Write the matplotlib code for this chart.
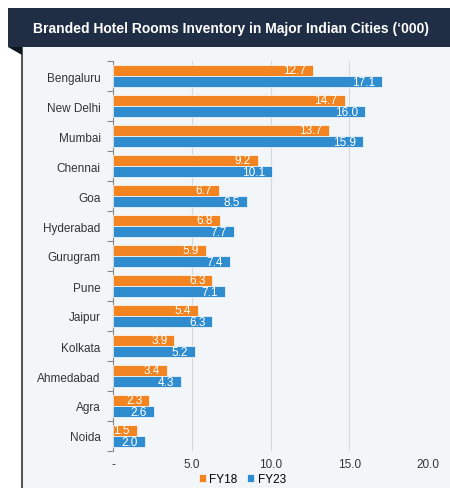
import numpy as np
import matplotlib.pyplot as plt
from matplotlib.patches import Rectangle, Polygon

cities = ["Bengaluru", "New Delhi", "Mumbai", "Chennai", "Goa", "Hyderabad",
          "Gurugram", "Pune", "Jaipur", "Kolkata", "Ahmedabad", "Agra", "Noida"]
fy18 = [12.7, 14.7, 13.7, 9.2, 6.7, 6.8, 5.9, 6.3, 5.4, 3.9, 3.4, 2.3, 1.5]
fy23 = [17.1, 16.0, 15.9, 10.1, 8.5, 7.7, 7.4, 7.1, 6.3, 5.2, 4.3, 2.6, 2.0]
xticks = [0, 5, 10, 15, 20]
xticklabels = ["-", "5.0", "10.0", "15.0", "20.0"]

orange = "#f28522"
blue = "#2f8ccf"
navy = "#1f2e45"
panel = "#f3f6f8"

plt.rcParams["font.family"] = ["Liberation Sans", "DejaVu Sans"]

fig = plt.figure(figsize=(4.5, 4.89), dpi=100)
fig.patch.set_facecolor("white")

# background panel + title bar
fig.patches.append(Rectangle((22 / 450, 0), 1 - 22 / 450, 1 - 48 / 489,
                             transform=fig.transFigure, facecolor=panel,
                             edgecolor="none", zorder=0))
fig.patches.append(Rectangle((21 / 450, 0), 1.5 / 450, 1 - 48 / 489,
                             transform=fig.transFigure, facecolor="#555555",
                             edgecolor="none", zorder=1))
fig.patches.append(Rectangle((8 / 450, 1 - 48 / 489), 1 - 8 / 450, 39 / 489,
                             transform=fig.transFigure, facecolor=navy,
                             edgecolor="none", zorder=1))
fig.patches.append(Polygon([(8 / 450, 1 - 48 / 489), (22 / 450, 1 - 48 / 489),
                            (22 / 450, 1 - 56 / 489)],
                           transform=fig.transFigure, facecolor="#0e1622",
                           edgecolor="none", zorder=1))
fig.text(231 / 450, 1 - 29 / 489,
         "Branded Hotel Rooms Inventory in Major Indian Cities (\u2018000)",
         color="white", fontsize=10, fontweight="bold",
         ha="center", va="center", zorder=3)

ax = fig.add_axes([113 / 450, 1 - 452 / 489, 315 / 450, 390 / 489])
ax.set_zorder(5)
ax.set_facecolor("none")

y = np.arange(len(cities))
h = 0.38
b1 = ax.barh(y - h / 2, fy18, height=h, color=orange, edgecolor="white", linewidth=0.5, label="FY18", zorder=3)
b2 = ax.barh(y + h / 2, fy23, height=h, color=blue, edgecolor="white", linewidth=0.5, label="FY23", zorder=3)
for bars, vals in [(b1, fy18), (b2, fy23)]:
    texts = ax.bar_label(bars, labels=[f"{v:.1f}" for v in vals], label_type="edge",
                         padding=-5, color="white", fontsize=8.5)
    for t in texts:
        t.set_ha("right")

ax.set_ylim(len(cities) - 0.5, -0.5)
ax.set_xlim(0, 20)
ax.set_xticks(xticks)
ax.set_xticklabels(xticklabels, fontsize=8.5, color="#333333")
ax.set_yticks(y)
ax.set_yticklabels(cities, fontsize=8.5, color="#333333")
ax.tick_params(axis="y", length=0, pad=9)
ax.tick_params(axis="x", length=0, pad=5)
ax.set_yticks(np.arange(-0.5, len(cities), 1), minor=True)
ax.tick_params(axis="y", which="minor", length=4, color="#888888", width=0.8)
ax.grid(axis="x", color="#d6d9dc", linewidth=0.8, zorder=0)
for s in ["top", "right", "bottom"]:
    ax.spines[s].set_visible(False)
ax.spines["left"].set_color("#888888")
ax.spines["left"].set_linewidth(0.8)

ax.legend(loc="center", bbox_to_anchor=(0.41, -0.072), ncol=2, frameon=False,
          fontsize=8.5, handlelength=0.6, handleheight=0.6, handletextpad=0.3,
          columnspacing=0.8, borderpad=0)

fig.savefig("out.png", dpi=100)
